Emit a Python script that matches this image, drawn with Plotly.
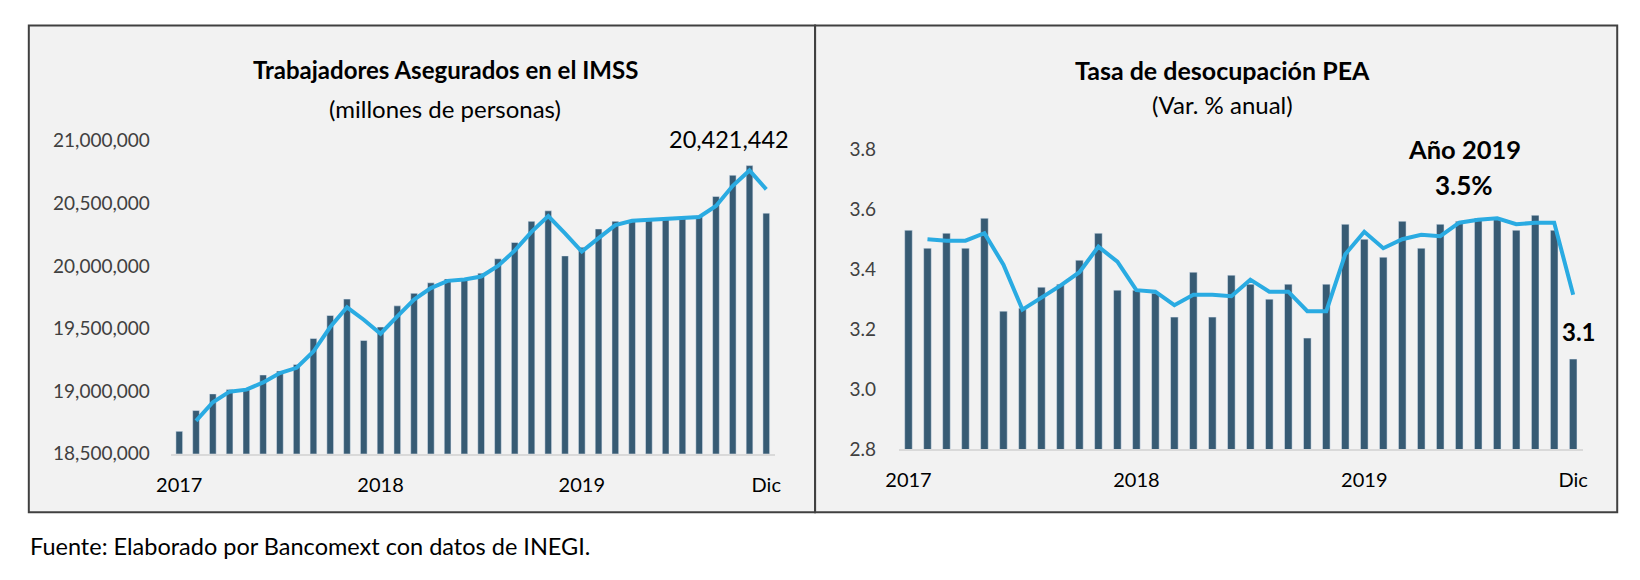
import pandas as pd
import plotly.graph_objects as go

W, H = 1640, 580

# Ene 2017 - Dic 2019
meses = list(range(36))
ticks_x = [0, 12, 24, 35]
ticks_txt = ["2017", "2018", "2019", "Dic"]

imss = [18679000, 18845000, 18978000, 19014000, 19010000, 19129000,
        19160000, 19213000, 19420000, 19604000, 19735000, 19405000,
        19512000, 19681000, 19781000, 19865000, 19896000, 19888000,
        19942000, 20057000, 20187000, 20356000, 20440000, 20080000,
        20149000, 20295000, 20356000, 20364000, 20371000, 20375000,
        20380000, 20402000, 20555000, 20724000, 20801000, 20421442]

desocupacion = [3.53, 3.47, 3.52, 3.47, 3.57, 3.26, 3.27, 3.34, 3.35, 3.43, 3.52, 3.33,
                3.33, 3.32, 3.24, 3.39, 3.24, 3.38, 3.35, 3.30, 3.35, 3.17, 3.35, 3.55,
                3.50, 3.44, 3.56, 3.47, 3.55, 3.56, 3.57, 3.57, 3.53, 3.58, 3.53, 3.10]

BAR = "#375B74"
LINE = "#2AABE2"
BG = "#F2F2F2"
FONT = "Lato"


def px(x):
    return x / W


def py(y):
    return 1 - y / H


# media movil de 2 periodos (linea de tendencia)
imss_mm = pd.Series(imss).rolling(2).mean()
desoc_mm = pd.Series(desocupacion).rolling(2).mean()

fig = go.Figure()
fig.add_trace(go.Bar(x=meses, y=imss, marker_color=BAR, xaxis="x", yaxis="y"))
fig.add_trace(go.Scatter(x=meses, y=imss_mm, mode="lines",
                         line=dict(color=LINE, width=4), xaxis="x", yaxis="y"))
fig.add_trace(go.Bar(x=meses, y=desocupacion, marker_color=BAR, xaxis="x2", yaxis="y2"))
fig.add_trace(go.Scatter(x=meses, y=desoc_mm, mode="lines",
                         line=dict(color=LINE, width=4), xaxis="x2", yaxis="y2"))

xcommon = dict(range=[-0.5, 35.5], tickvals=ticks_x, ticktext=ticks_txt,
               showline=True, linecolor="#D9D9D9", linewidth=1.5, showgrid=False,
               zeroline=False, ticks="", ticklabelstandoff=12,
               tickfont=dict(family=FONT, size=20, color="#000000"))
fig.update_layout(
    xaxis=dict(domain=[px(158), px(770)], anchor="y", **xcommon),
    yaxis=dict(domain=[py(460), py(134)], anchor="x", range=[18500000, 21000000],
               tickvals=[18500000, 19000000, 19500000, 20000000, 20500000, 21000000],
               tickformat=",d", showgrid=False, zeroline=False, showline=False,
               ticklabelstandoff=20,
               tickfont=dict(family=FONT, size=19, color="#404040")),
    xaxis2=dict(domain=[px(896), px(1589)], anchor="y2", **xcommon),
    yaxis2=dict(domain=[py(455), py(143)], anchor="x2", range=[2.8, 3.8],
                tickvals=[2.8, 3.0, 3.2, 3.4, 3.6, 3.8], tickformat=".1f",
                showgrid=False, zeroline=False, showline=False,
                ticklabelstandoff=22,
                tickfont=dict(family=FONT, size=19, color="#404040")),
)

# marcos de los paneles
fig.add_shape(type="rect", xref="paper", yref="paper", layer="below",
              x0=px(14), x1=px(811), y0=py(521), y1=py(14),
              fillcolor=BG, line=dict(color="#404040", width=2))
fig.add_shape(type="rect", xref="paper", yref="paper", layer="below",
              x0=px(811), x1=px(1624), y0=py(521), y1=py(14),
              fillcolor=BG, line=dict(color="#404040", width=2))


def texto(x, y, t, size, bold=False, anchor="center"):
    fig.add_annotation(x=px(x), y=py(y), xref="paper", yref="paper",
                       text=f"<b>{t}</b>" if bold else t, showarrow=False,
                       xanchor=anchor, yanchor="middle",
                       font=dict(family=FONT, size=size, color="#000000"))


texto(436, 60, "Trabajadores Asegurados en el IMSS", 24, bold=True)
texto(436, 100, "(millones de personas)", 24)
texto(1224, 60, "Tasa de desocupación PEA", 25, bold=True)
texto(1224, 96, "(Var. % anual)", 24)
texto(724, 132, f"{imss[-1]:,}", 23.5)
texto(1469, 143, "Año 2019", 25.5, bold=True)
texto(1469, 180, "3.5%", 26, bold=True)
texto(1585, 333, f"{desocupacion[-1]:.1f}", 24, bold=True)
texto(13, 556, "Fuente: Elaborado por Bancomext con datos de INEGI.", 23.5, anchor="left")

fig.update_layout(width=W, height=H, margin=dict(l=0, r=0, t=0, b=0),
                  paper_bgcolor="white", plot_bgcolor="rgba(0,0,0,0)",
                  showlegend=False, bargap=0.6)

fig.write_html("out.html", config={"displayModeBar": False},
               post_script="document.body.style.margin='0';document.body.style.overflow='hidden';")
